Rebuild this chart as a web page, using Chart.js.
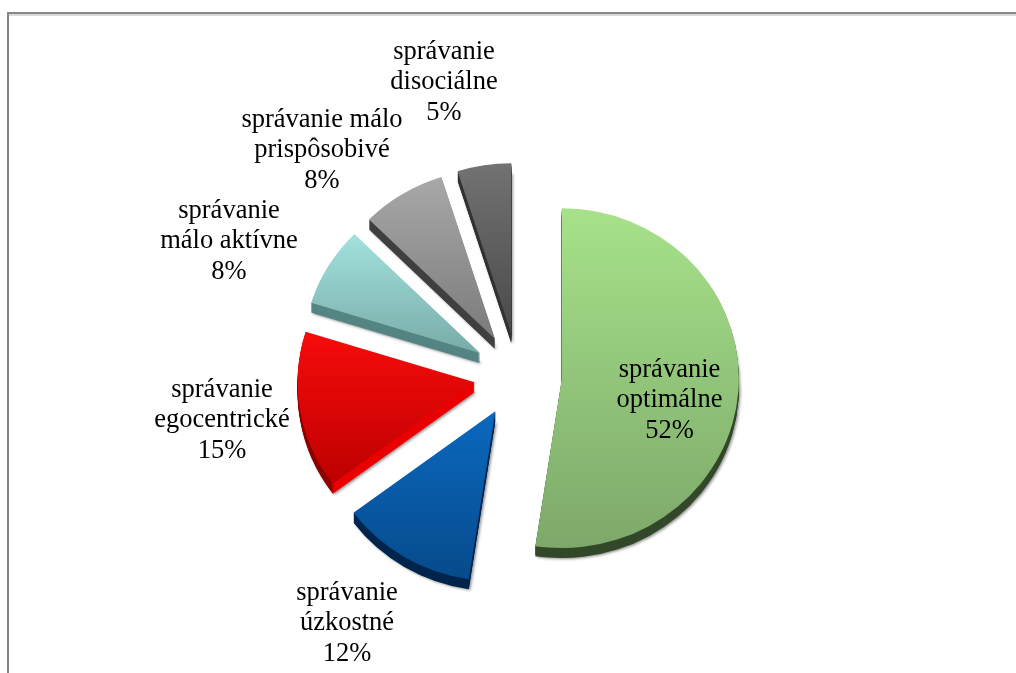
<!DOCTYPE html>
<html>
<head>
<meta charset="utf-8">
<title>správanie</title>
<script src="https://cdn.jsdelivr.net/npm/chart.js@4/dist/chart.umd.min.js"></script>
<style>
  html, body { margin: 0; padding: 0; background: #fff; }
  canvas { display: block; }
</style>
</head>
<body>
<canvas id="behaviourChart" width="1016" height="673"></canvas>
<script>
// data
const categories = [
  "správanie\noptimálne",
  "správanie\núzkostné",
  "správanie\negocentrické",
  "správanie\nmálo aktívne",
  "správanie málo\nprispôsobivé",
  "správanie\ndisociálne",
];
// rounded numbers as printed on the labels
const percentLabels = ["52%", "12%", "15%", "8%", "8%", "5%"];
// slice sizes as measured from the slice edges, they round to about the labels
const sliceShares = [52.4, 12.4, 15.0, 7.6, 7.7, 4.9];

// look of the slices
const faceTop = ["#a7e28a", "#0b69c0", "#f80b0b", "#a2e2de", "#a8a8a8", "#727272"];
const faceBottom = ["#7da86a", "#064a8b", "#bd0000", "#78aba8", "#7b7b7b", "#4a4a4a"];
const rimColors = ["#33482a", "#00254d", "#ea0000", "#558583", "#3f3f3f", "#333333"];
const labelCenters = [[669.5, 370], [347, 593], [222, 390], [229, 211], [322, 120], [444, 52]];

const CX = 518;
const CY = 375;
const RADIUS = 177;
const EXPLODE = 44;
const SQUASH = 0.96;
const RIM_DEPTH = 10;
const LINE_HEIGHT = 30.5;
const RED = 2;

const total = sliceShares.reduce((a, b) => a + b, 0);

const sliceGradient = (context) => {
  const i = context.dataIndex;
  if (i === undefined) return faceTop[0];
  const before = sliceShares.slice(0, i).reduce((a, b) => a + b, 0);
  const a0 = (before / total) * 2 * Math.PI;
  const a1 = ((before + sliceShares[i]) / total) * 2 * Math.PI;
  const ys = [0];
  for (let t = 0; t <= 20; t++) {
    ys.push(-Math.cos(a0 + ((a1 - a0) * t) / 20) * RADIUS);
  }
  const g = context.chart.ctx.createLinearGradient(0, CY + Math.min(...ys), 0, CY + Math.max(...ys));
  g.addColorStop(0, faceTop[i]);
  g.addColorStop(1, faceBottom[i]);
  return g;
};

const squashAroundCenter = (ctx) => {
  ctx.translate(0, CY);
  ctx.scale(1, SQUASH);
  ctx.translate(0, -CY);
};

// red rim: dark along the outer arc, bright along the straight edge
const rimPaint = (ctx, arc, i) => {
  if (i !== RED) return rimColors[i];
  const cornerX = arc.x + Math.cos(arc.startAngle) * RADIUS;
  const g = ctx.createLinearGradient(cornerX - 3, 0, cornerX + 1, 0);
  g.addColorStop(0, "#8c0000");
  g.addColorStop(1, rimColors[i]);
  return g;
};

const pieLook = {
  id: "pieLook",
  afterDatasetsUpdate(chart) {
    // arc.draw grows the radius and narrows the sweep by a share of the offset
    // that depends on the slice angle, take it back so the slices stay true
    chart.getDatasetMeta(0).data.forEach((arc) => {
      const grown = EXPLODE * (1 - Math.sin(Math.min(Math.PI, arc.circumference)));
      const narrowed = grown / (2 * Math.PI * RADIUS);
      arc.outerRadius = RADIUS - grown;
      arc.startAngle -= narrowed;
      arc.endAngle += narrowed;
    });
  },
  beforeDraw(chart) {
    const { ctx } = chart;
    ctx.save();
    // frame of the picture, open at the bottom
    ctx.fillStyle = "#d9d9d9";
    ctx.fillRect(9, 14, 1007, 2);
    ctx.fillStyle = "#878787";
    ctx.fillRect(7, 12, 1009, 2);
    ctx.fillRect(7, 12, 2, 661);
    ctx.restore();
  },
  beforeDatasetDraw(chart) {
    const { ctx } = chart;
    ctx.save();
    squashAroundCenter(ctx);
    chart.getDatasetMeta(0).data.forEach((arc, i) => {
      const faceOptions = arc.options;
      arc.options = Object.assign({}, faceOptions, { backgroundColor: rimPaint(ctx, arc, i) });
      for (let k = RIM_DEPTH; k >= 1; k--) {
        ctx.save();
        if (k === RIM_DEPTH) {
          ctx.shadowColor = "rgba(0,0,0,0.45)";
          ctx.shadowBlur = 3;
          ctx.shadowOffsetX = 1.5;
          ctx.shadowOffsetY = 1;
        }
        ctx.translate(0, k / SQUASH);
        arc.draw(ctx);
        ctx.restore();
      }
      arc.options = faceOptions;
    });
  },
  afterDatasetDraw(chart) {
    chart.ctx.restore();
  },
  afterDraw(chart) {
    const { ctx } = chart;
    ctx.save();
    ctx.fillStyle = "#000";
    ctx.font = '26.5px "Liberation Serif"';
    ctx.textAlign = "center";
    ctx.textBaseline = "middle";
    categories.forEach((name, i) => {
      const lines = name.split("\n").concat(percentLabels[i]);
      lines.forEach((line, n) => {
        ctx.fillText(line, labelCenters[i][0], labelCenters[i][1] + n * LINE_HEIGHT);
      });
    });
    ctx.restore();
  },
};

new Chart(document.getElementById("behaviourChart"), {
  type: "pie",
  data: {
    labels: categories,
    datasets: [
      {
        data: sliceShares,
        backgroundColor: sliceGradient,
        borderWidth: 0,
        offset: EXPLODE * 4,
        clip: false,
      },
    ],
  },
  options: {
    responsive: false,
    animation: false,
    radius: RADIUS,
    layout: { padding: { left: 2 * CX - 1016, top: 2 * CY - 673 } },
    plugins: {
      legend: { display: false },
      tooltip: { enabled: false },
    },
  },
  plugins: [pieLook],
});
</script>
</body>
</html>
